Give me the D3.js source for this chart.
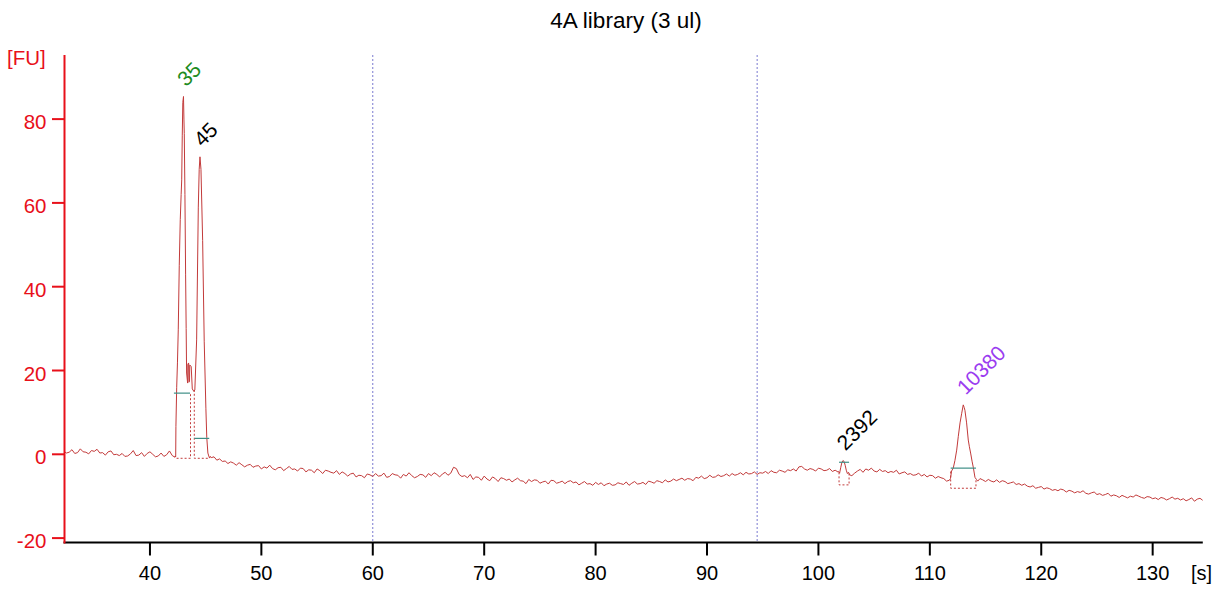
<!DOCTYPE html>
<html>
<head>
<meta charset="utf-8">
<script src="https://cdn.jsdelivr.net/npm/d3@7/dist/d3.min.js"></script>
<style>
  html, body { margin: 0; padding: 0; background: #fff; }
  svg { display: block; }
  text { font-family: "Liberation Sans", Arial, sans-serif; }
</style>
</head>
<body>
<svg id="chart" width="1216" height="592"></svg>
<script>
// ---------------- data ----------------
const title = "4A library (3 ul)";
const xTicks = [40, 50, 60, 70, 80, 90, 100, 110, 120, 130];
const yTicks = [-20, 0, 20, 40, 60, 80];
const xUnit = "[s]";
const yUnit = "[FU]";

// baseline trace, sampled every 0.25 s starting at 32.25 s
const baseStart = 32.25;
const baseStep = 0.25;
const baselineValues = [
  0.8, 0.3, 0.5, 1.1,     0.2, 0.4, 1.3, 0.6,     0.5, 0.1, 0.9, 0.7,     1.2, 0.3, 0.4, -0.2,
  0.6, 0.8, -0.1, 0.0,    -0.3, 0.2, -0.5, -0.4,  0.1, 0.9, -0.3, -0.2,   0.4, -0.5, 0.2, 0.6,
  0.0, -0.6, -0.4, 0.3,   -0.5, -0.1, 0.8, -0.3,  -0.7, -0.5, -0.5, -0.5, -0.5, -0.5, -0.5, -0.5,
  -0.5, -0.5, -0.5, -0.5, -0.2, -0.8, -0.6, -1.4, -1.1, -1.7, -1.6, -2.2, -1.8, -2.1, -2.6, -2.0,
  -2.5, -3.0, -2.6, -2.4, -3.1, -2.8, -2.7, -3.5, -3.0, -3.3, -2.6, -3.4, -3.7, -3.2, -3.1, -3.9,
  -3.4, -2.9, -3.6, -3.5, -4.0, -3.3, -3.4, -4.2, -3.7, -3.8, -4.4, -3.5, -3.9, -4.6, -3.8, -4.0,
  -4.3, -4.5, -3.9, -4.8, -4.2, -4.6, -5.2, -4.7, -4.5, -5.4, -5.0, -5.1, -5.6, -4.7, -4.9, -5.3,
  -4.6, -5.2, -5.1, -4.5, -5.5, -5.3, -4.6, -4.9, -5.0, -5.7, -4.8, -5.2, -4.4, -5.1, -5.6, -5.3,
  -4.8, -4.9, -5.5, -4.6, -5.1, -4.4, -4.8, -5.4, -4.7, -4.3, -5.0, -4.5, -3.1, -3.4, -4.8, -5.3,
  -5.1, -5.6, -4.8, -6.0, -5.4, -5.5, -6.2, -5.2, -5.9, -6.3, -5.4, -5.8, -6.5, -5.6, -5.8, -6.2,
  -5.9, -6.6, -6.1, -5.7, -6.3, -6.4, -7.0, -6.0, -6.5, -6.1, -6.2, -6.9, -6.6, -6.4, -7.1, -6.2,
  -6.3, -6.9, -6.7, -6.4, -7.0, -6.5, -6.3, -6.8, -6.6, -7.3, -6.9, -6.5, -7.1, -7.0, -7.4, -6.7,
  -7.2, -6.8, -7.5, -7.1, -6.9, -7.4, -7.3, -6.8, -7.0, -7.2, -6.6, -7.4, -6.9, -6.5, -7.1, -7.0,
  -6.7, -7.2, -6.4, -6.6, -6.9, -6.3, -6.5, -6.8, -6.1, -6.6, -6.4, -5.9, -6.3, -6.0, -5.7, -6.2,
  -5.8, -5.9, -6.3, -5.5, -5.7, -5.2, -5.8, -5.6, -5.0, -5.5, -5.4, -4.9, -5.3, -5.1, -4.7, -5.2,
  -4.6, -5.0, -4.8, -4.4, -4.9, -4.3, -4.7, -4.6, -4.2, -4.8, -4.4, -4.5, -4.1, -4.6, -3.9, -4.3,
  -4.4, -3.8, -4.0, -4.3, -3.7, -3.9, -3.5, -4.0, -3.0, -2.9, -3.5, -3.8, -3.4, -3.6, -4.0, -3.3,
  -3.5, -3.9, -3.8, -3.4, -4.1, -3.8, -4.2, -4.0, -4.0, -4.0, -4.9, -5.1, -4.5, -4.0, -3.6, -4.3,
  -3.5, -3.8, -3.3, -4.0, -4.2, -3.6, -4.1, -3.9, -4.4, -4.1, -4.3, -3.8, -4.7, -4.4, -4.2, -4.8,
  -4.6, -5.0, -4.9, -4.5, -5.2, -4.8, -5.4, -5.0, -5.1, -5.7, -5.3, -5.6, -5.8, -6.4, -6.2, -6.2,
  -6.0, -6.0, -6.0, -6.0, -6.0, -6.0, -6.0, -6.0, -6.3, -5.8, -6.1, -6.5, -6.0, -6.4, -6.6, -6.1,
  -6.7, -6.3, -6.5, -7.0, -6.8, -6.6, -7.2, -7.0, -7.4, -7.1, -7.6, -7.8, -7.5, -8.1, -7.9, -7.7,
  -8.3, -8.0, -8.2, -8.6, -8.4, -8.7, -8.3, -8.5, -9.0, -8.6, -8.8, -9.2, -8.9, -9.1, -8.7, -9.3,
  -9.5, -9.2, -9.0, -9.6, -9.4, -9.8, -9.6, -9.3, -10.0, -9.7, -9.9, -10.3, -9.8, -10.1, -10.4, -10.0,
  -10.2, -9.7, -10.0, -10.3, -10.5, -10.1, -10.2, -10.6, -10.4, -10.8, -10.3, -10.5, -10.9, -10.6, -10.2, -10.7,
  -10.5, -10.9, -10.6, -11.1, -10.8, -10.4, -11.2, -10.7, -10.5, -11.0
];

// finely sampled peak segments [time s, FU]
const peakSegment1 = [
  [42.26, -0.4], [42.31, -0.6], [42.33, 6.6], [42.40, 16], [42.47, 22], [42.54, 29.7],
  [42.63, 45], [42.72, 56], [42.80, 62], [42.85, 65.5], [42.90, 76], [42.95, 84],
  [43.01, 85.4], [43.05, 80], [43.08, 76.6], [43.14, 62], [43.20, 43], [43.25, 30],
  [43.29, 19.4], [43.38, 17], [43.40, 21.5], [43.47, 21.8], [43.50, 17.2], [43.55, 17.4],
  [43.57, 21.3], [43.70, 21], [43.80, 15.6], [43.95, 15.0], [44.03, 15.4], [44.19, 27.3],
  [44.34, 59], [44.42, 68], [44.49, 71], [44.58, 68], [44.73, 51], [44.87, 27],
  [45.02, 11], [45.10, 4], [45.20, 0.3], [45.28, -0.4], [45.35, -0.9], [45.42, -0.5]
];
const peakSegment2 = [
  [101.80, -4.1], [101.90, -4.5], [102.00, -3.2], [102.10, -2.0], [102.20, -1.5], [102.30, -1.7],
  [102.40, -2.6], [102.50, -3.8], [102.60, -4.6], [102.70, -4.3], [102.80, -4.9]
];
const peakSegment3 = [
  [111.75, -6.2], [111.85, -5.8], [111.95, -4.0], [112.10, -3.3], [112.25, -1.5], [112.41, 1.0],
  [112.55, 4.2], [112.71, 7.5], [112.86, 9.8], [113.00, 11.8], [113.08, 11.2], [113.15, 10.5],
  [113.30, 7.5], [113.45, 3.4], [113.55, 1.8], [113.66, 0.3], [113.80, -1.8], [113.90, -3.1],
  [114.05, -5.5], [114.18, -6.0], [114.30, -6.4]
];

// peak annotations
const peakLabels  = ["35", "45", "2392", "10380"];
const peakTimes   = [43.01, 44.49, 102.2, 113.0];
const peakHeights = [85.4, 71, -1.5, 11.8];

// peak level markers and integration outlines
const levelStart = [42.15, 43.98, 101.85, 111.87];
const levelEnd   = [43.60, 45.32, 102.75, 114.14];
const levelValue = [14.6, 3.8, -1.9, -3.3];
const outline1 = [[42.39, -0.95], [43.64, -0.95], [43.64, 14.6]];
const outline2 = [[43.98, 15.4], [43.98, -0.95], [45.32, -0.95]];
const outline3 = [[101.85, -4.3], [101.85, -7.3], [102.75, -7.3], [102.75, -4.4]];
const outline4 = [[111.87, -4.1], [111.87, -8.1], [114.14, -8.1], [114.14, -6.0]];

// vertical marker lines (s)
const markerTimes = [60.0, 94.5];

// ---------------- styles ----------------
const labelColors = ["#1e8c1e", "#000000", "#000000", "#9a3cf0"];
const traceColor = "#c23a3a";
const axisRed = "#e8101a";
const levelColor = "#3f8f86";
const markerColor = "#7a7ad0";

// ---------------- build ----------------
const svg = d3.select("#chart");
const x = d3.scaleLinear().domain([32.33, 134.5]).range([64.5, 1202.8]);
const y = d3.scaleLinear().domain([-21.05, 95.3]).range([542.5, 55]);

const segments = [peakSegment1, peakSegment2, peakSegment3];
let trace = baselineValues.map((v, i) => [baseStart + i * baseStep, v])
  .filter(p => !segments.some(s => p[0] >= s[0][0] && p[0] <= s[s.length - 1][0]));
segments.forEach(s => { trace = trace.concat(s); });
trace.sort((a, b) => a[0] - b[0]);

// clip
svg.append("clipPath").attr("id", "plotClip")
  .append("rect").attr("x", x.range()[0]).attr("y", 40)
  .attr("width", x.range()[1] - x.range()[0]).attr("height", 510);

// title
svg.append("text").attr("x", 626).attr("y", 28).attr("text-anchor", "middle")
  .attr("font-size", 22.5).attr("fill", "#000").text(title);

// vertical marker lines
svg.selectAll("line.marker").data(markerTimes).enter().append("line")
  .attr("class", "marker")
  .attr("x1", d => x(d)).attr("x2", d => x(d))
  .attr("y1", y.range()[1]).attr("y2", y.range()[0])
  .attr("stroke", markerColor).attr("stroke-width", 1)
  .attr("stroke-dasharray", "2,2");

const line = d3.line().x(d => x(d[0])).y(d => y(d[1]));

// outlines (dashed)
[outline1, outline2, outline3, outline4].forEach(o => {
  svg.append("path").attr("d", line(o)).attr("fill", "none")
    .attr("stroke", traceColor).attr("stroke-width", 1)
    .attr("stroke-dasharray", "2,2");
});

// trace
svg.append("path").attr("d", line(trace)).attr("fill", "none")
  .attr("stroke", traceColor).attr("stroke-width", 1)
  .attr("clip-path", "url(#plotClip)");

// level markers
svg.selectAll("line.level").data(levelValue).enter().append("line")
  .attr("class", "level")
  .attr("x1", (d, i) => x(levelStart[i])).attr("x2", (d, i) => x(levelEnd[i]))
  .attr("y1", d => y(d)).attr("y2", d => y(d))
  .attr("stroke", levelColor).attr("stroke-width", 1.2);

// peak labels
svg.selectAll("text.peak").data(peakLabels).enter().append("text")
  .attr("class", "peak")
  .attr("transform", (d, i) => `translate(${x(peakTimes[i]) + 2.5},${y(peakHeights[i]) - 9}) rotate(-45)`)
  .attr("font-size", 21).attr("fill", (d, i) => labelColors[i])
  .text(d => d);

// axes
const xAxis = svg.append("g").attr("transform", `translate(0,${y.range()[0]})`);
xAxis.append("line").attr("x1", x.range()[0] - 1).attr("x2", x.range()[1])
  .attr("y1", 0).attr("y2", 0).attr("stroke", "#000").attr("stroke-width", 2);
const xt = xAxis.selectAll("g.tick").data(xTicks).enter().append("g")
  .attr("transform", d => `translate(${x(d)},0)`);
xt.append("line").attr("y1", 0).attr("y2", 13).attr("stroke", "#000").attr("stroke-width", 2);
xt.append("text").attr("y", 37.5).attr("text-anchor", "middle").attr("font-size", 20)
  .attr("fill", "#000").text(d => d);
svg.append("text").attr("x", 1191).attr("y", 580).attr("font-size", 20)
  .attr("fill", "#000").text(xUnit);

const yAxis = svg.append("g").attr("transform", `translate(${x.range()[0]},0)`);
yAxis.append("line").attr("x1", 0).attr("x2", 0)
  .attr("y1", y.range()[1]).attr("y2", y.range()[0] + 1)
  .attr("stroke", axisRed).attr("stroke-width", 2);
const yt = yAxis.selectAll("g.tick").data(yTicks).enter().append("g")
  .attr("transform", d => `translate(0,${y(d)})`);
yt.append("line").attr("x1", -12.5).attr("x2", 0).attr("stroke", axisRed).attr("stroke-width", 2);
yt.append("text").attr("x", -18).attr("y", 10).attr("text-anchor", "end")
  .attr("font-size", 20.5).attr("fill", axisRed).text(d => d);
svg.append("text").attr("x", 7).attr("y", 65).attr("font-size", 20.5)
  .attr("fill", axisRed).text(yUnit);
</script>
</body>
</html>
